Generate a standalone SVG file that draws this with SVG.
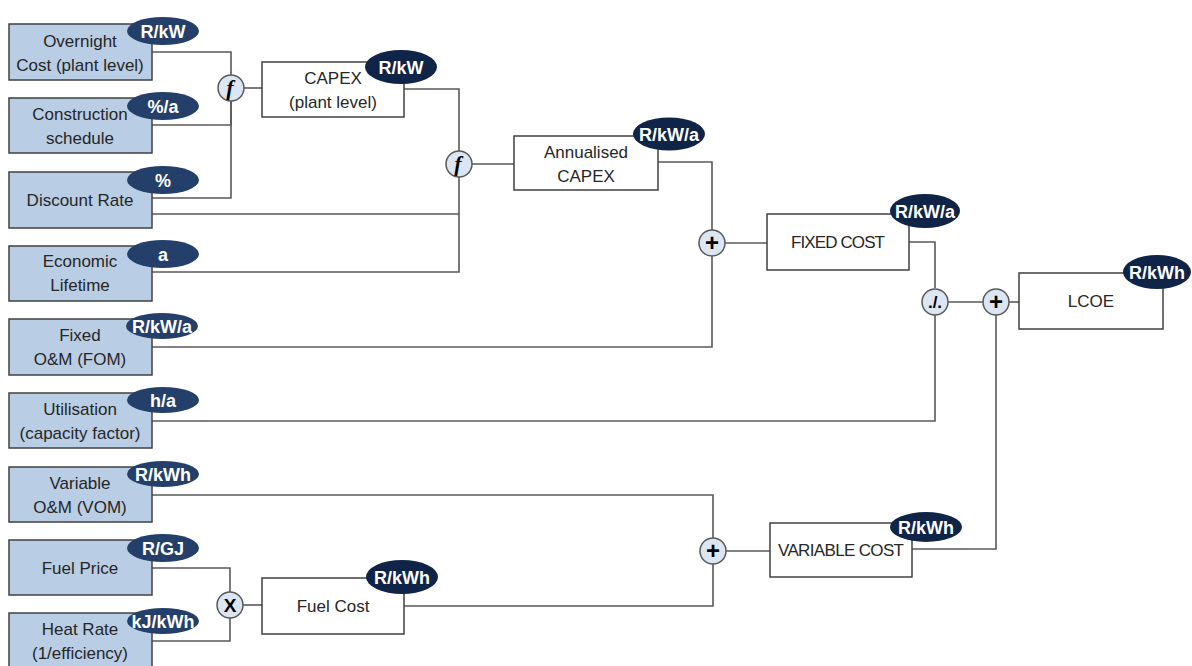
<svg xmlns="http://www.w3.org/2000/svg" width="1192" height="666" viewBox="0 0 1192 666">
<style>
.in{fill:#b9cde5;stroke:#404040;stroke-width:1.5}
.out{fill:#ffffff;stroke:#404040;stroke-width:1.5}
.t{font-family:"Liberation Sans",Arial,sans-serif;font-size:17px;fill:#262626;text-anchor:middle}
.bi{fill:#24406a}
.bo{fill:#0f2446}
.bt{font-family:"Liberation Sans",Arial,sans-serif;font-size:18px;font-weight:bold;fill:#ffffff;text-anchor:middle}
.op{fill:#dce6f2;stroke:#595959;stroke-width:1.5}
.ot{font-family:"Liberation Sans",Arial,sans-serif;font-weight:bold;fill:#000000;text-anchor:middle}
.fs{font-family:"Liberation Serif",serif;font-style:italic;font-weight:bold;font-size:22px;fill:#000000;text-anchor:middle}
.c{fill:none;stroke:#595959;stroke-width:1.6}
</style>
<rect width="1192" height="666" fill="#ffffff"/>
<g id="connectors">
<polyline class="c" points="152,52 231,52 231,75"/>
<polyline class="c" points="152,125 231,125 231,101"/>
<polyline class="c" points="152,198 231,198 231,101"/>
<polyline class="c" points="244,88 262,88"/>
<polyline class="c" points="404,89 459,89 459,151"/>
<polyline class="c" points="152,214 459,214"/>
<polyline class="c" points="152,272 459,272 459,177"/>
<polyline class="c" points="472,164 514,164"/>
<polyline class="c" points="658,162 712,162 712,230"/>
<polyline class="c" points="725,243 767,243"/>
<polyline class="c" points="152,347 712,347 712,256"/>
<polyline class="c" points="909,242 935,242 935,288"/>
<polyline class="c" points="152,421 935,421 935,315"/>
<polyline class="c" points="948,302 983,302"/>
<polyline class="c" points="1009,302 1019,302"/>
<polyline class="c" points="912,549 996,549 996,315"/>
<polyline class="c" points="152,495 713,495 713,538"/>
<polyline class="c" points="726,551 770,551"/>
<polyline class="c" points="404,606 713,606 713,564"/>
<polyline class="c" points="152,568 230,568 230,592"/>
<polyline class="c" points="152,641 230,641 230,618"/>
<polyline class="c" points="243,605 262,605"/>
</g>
<g id="overnight">
<rect class="in" x="9" y="24" width="143" height="56"/>
<text class="t" x="80" y="47">Overnight</text>
<text class="t" x="80" y="71">Cost (plant level)</text>
<ellipse class="bi" cx="163" cy="31" rx="36" ry="14"/>
<text class="bt" x="163" y="37.5">R/kW</text>
</g>
<g id="construction">
<rect class="in" x="9" y="98" width="143" height="55"/>
<text class="t" x="80" y="120">Construction</text>
<text class="t" x="80" y="144">schedule</text>
<ellipse class="bi" cx="163" cy="106" rx="36" ry="14"/>
<text class="bt" x="163" y="112.5">%/a</text>
</g>
<g id="discount">
<rect class="in" x="9" y="172" width="143" height="56"/>
<text class="t" x="80" y="206">Discount Rate</text>
<ellipse class="bi" cx="163" cy="180" rx="36" ry="14"/>
<text class="bt" x="163" y="186.5">%</text>
</g>
<g id="lifetime">
<rect class="in" x="9" y="246" width="143" height="55"/>
<text class="t" x="80" y="267">Economic</text>
<text class="t" x="80" y="291">Lifetime</text>
<ellipse class="bi" cx="163" cy="254" rx="36" ry="14"/>
<text class="bt" x="163" y="260.5">a</text>
</g>
<g id="fom">
<rect class="in" x="9" y="319" width="143" height="56"/>
<text class="t" x="80" y="341">Fixed</text>
<text class="t" x="80" y="365">O&amp;M (FOM)</text>
<ellipse class="bi" cx="162" cy="326" rx="36" ry="13"/>
<text class="bt" x="162" y="332.5">R/kW/a</text>
</g>
<g id="utilisation">
<rect class="in" x="9" y="393" width="143" height="55"/>
<text class="t" x="80" y="415">Utilisation</text>
<text class="t" x="80" y="439">(capacity factor)</text>
<ellipse class="bi" cx="163" cy="400" rx="36" ry="13"/>
<text class="bt" x="163" y="406.5">h/a</text>
</g>
<g id="vom">
<rect class="in" x="9" y="467" width="143" height="55"/>
<text class="t" x="80" y="489">Variable</text>
<text class="t" x="80" y="513">O&amp;M (VOM)</text>
<ellipse class="bi" cx="163" cy="474" rx="36" ry="13"/>
<text class="bt" x="163" y="480.5">R/kWh</text>
</g>
<g id="fuelprice">
<rect class="in" x="9" y="540" width="143" height="55"/>
<text class="t" x="80" y="574">Fuel Price</text>
<ellipse class="bi" cx="163" cy="548" rx="36" ry="14"/>
<text class="bt" x="163" y="554.5">R/GJ</text>
</g>
<g id="heatrate">
<rect class="in" x="9" y="613" width="143" height="56"/>
<text class="t" x="80" y="635">Heat Rate</text>
<text class="t" x="80" y="659">(1/efficiency)</text>
<ellipse class="bi" cx="163" cy="621" rx="36" ry="13"/>
<text class="bt" x="163" y="627.5">kJ/kWh</text>
</g>
<g id="capex">
<rect class="out" x="262" y="62" width="142" height="55"/>
<text class="t" x="333" y="84">CAPEX</text>
<text class="t" x="333" y="108">(plant level)</text>
<ellipse class="bo" cx="401" cy="67" rx="36" ry="17"/>
<text class="bt" x="401" y="73.5">R/kW</text>
</g>
<g id="annualised">
<rect class="out" x="514" y="136" width="144" height="54"/>
<text class="t" x="586" y="158">Annualised</text>
<text class="t" x="586" y="182">CAPEX</text>
<ellipse class="bo" cx="669" cy="134" rx="36" ry="16.5"/>
<text class="bt" x="669" y="140.5">R/kW/a</text>
</g>
<g id="fixedcost">
<rect class="out" x="767" y="214" width="142" height="56"/>
<text class="t" x="838" y="248" textLength="94" lengthAdjust="spacing">FIXED COST</text>
<ellipse class="bo" cx="925" cy="211" rx="35" ry="17"/>
<text class="bt" x="925" y="217.5">R/kW/a</text>
</g>
<g id="lcoe">
<rect class="out" x="1019" y="273" width="144" height="56"/>
<text class="t" x="1091" y="307">LCOE</text>
<ellipse class="bo" cx="1157" cy="272" rx="34" ry="17"/>
<text class="bt" x="1157" y="278.5">R/kWh</text>
</g>
<g id="variablecost">
<rect class="out" x="770" y="523" width="142" height="54"/>
<text class="t" x="841" y="556" textLength="126" lengthAdjust="spacing">VARIABLE COST</text>
<ellipse class="bo" cx="926" cy="527" rx="36" ry="15"/>
<text class="bt" x="926" y="533.5">R/kWh</text>
</g>
<g id="fuelcost">
<rect class="out" x="262" y="578" width="142" height="56"/>
<text class="t" x="333" y="612">Fuel Cost</text>
<ellipse class="bo" cx="402" cy="577" rx="36" ry="17"/>
<text class="bt" x="402" y="583.5">R/kWh</text>
</g>
<g id="op-f1">
<circle class="op" cx="231" cy="88" r="13"/>
<text class="fs" x="230" y="95">f</text>
</g>
<g id="op-f2">
<circle class="op" cx="459" cy="164" r="13"/>
<text class="fs" x="458" y="171">f</text>
</g>
<g id="op-plus1">
<circle class="op" cx="712" cy="243" r="13"/>
<text class="ot" x="712" y="251" font-size="24">+</text>
</g>
<g id="op-div">
<circle class="op" cx="935" cy="302" r="13"/>
<text class="ot" x="935" y="308" font-size="17">./.</text>
</g>
<g id="op-plus2">
<circle class="op" cx="996" cy="302" r="13"/>
<text class="ot" x="996" y="310" font-size="24">+</text>
</g>
<g id="op-plus3">
<circle class="op" cx="713" cy="551" r="13"/>
<text class="ot" x="713" y="559" font-size="24">+</text>
</g>
<g id="op-times">
<circle class="op" cx="230" cy="605" r="13"/>
<text class="ot" x="230" y="612" font-size="19">X</text>
</g>
</svg>
